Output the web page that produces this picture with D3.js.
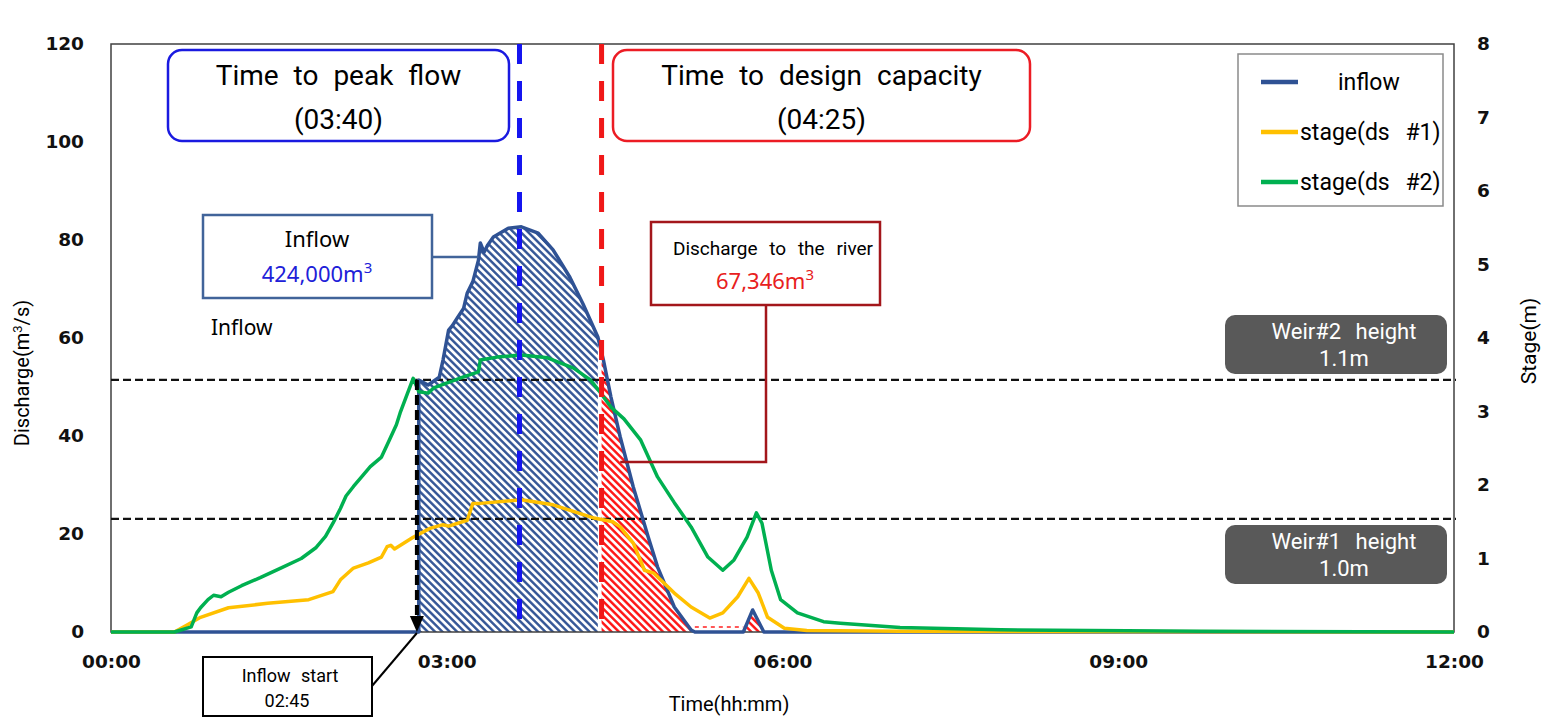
<!DOCTYPE html>
<html>
<head>
<meta charset="utf-8">
<script src="https://cdn.jsdelivr.net/npm/d3@7"></script>
<style>
body{margin:0;background:#fff;}
</style>
</head>
<body>
<script>
// times are minutes after 00:00
let inflowTime = [0,165,165,170,176,178,181,183,186,189,191,194,197,198,200,202,205,213,220,229,237,246,253,261,264,268,273,280,288,293,302,311,313,339,344,350,720]
let inflowQ    = [0,0,51.4,50.4,52,55.5,61.6,62.5,64.3,66,69.2,71.5,75.9,79.4,77.5,79,80.6,82.4,82.7,81.4,78,72.4,67,60.2,55.5,48,39.8,29.6,19.4,13.3,5.1,0.4,0,0,4.5,0,0]

let stage1Time = [0,34,41,48,63,84,106,119,123,130,138,145,148,150,152,162,171,178,181,191,194,198,220,237,259,269,273,280,286,291,302,311,321,328,336,342,347,352,361,373,423,720]
let stage1     = [0,0,0.1,0.2,0.33,0.39,0.44,0.55,0.71,0.87,0.94,1.02,1.16,1.18,1.13,1.29,1.41,1.46,1.44,1.52,1.75,1.75,1.8,1.73,1.55,1.5,1.43,1.21,0.84,0.8,0.53,0.34,0.19,0.26,0.48,0.73,0.53,0.2,0.05,0.02,0.01,0]

let stage2Time = [0,34,43,46,48,52,55,59,63,70,80,91,102,110,115,119,123,126,130,134,139,145,149,153,155,159,162,165,170,173,189,197,198,207,220,234,248,257,262,268,275,284,293,302,311,320,328,334,341,346,349,354,359,368,382,391,423,477,584,720]
let stage2     = [0,0,0.07,0.26,0.33,0.44,0.5,0.48,0.54,0.63,0.74,0.87,1.0,1.15,1.3,1.48,1.68,1.85,1.98,2.1,2.25,2.38,2.6,2.82,2.98,3.25,3.45,3.27,3.25,3.32,3.47,3.54,3.7,3.74,3.77,3.73,3.59,3.43,3.27,3.06,2.9,2.61,2.11,1.76,1.43,1.02,0.84,0.98,1.29,1.62,1.48,0.84,0.44,0.26,0.14,0.12,0.06,0.03,0.01,0]

let xTicks = [0,180,360,540,720]
let leftTicks = [0,20,40,60,80,100,120]
let rightTicks = [0,1,2,3,4,5,6,7,8]

let seriesNames = ["inflow","stage(ds #1)","stage(ds #2)"]
let seriesColors = ["#2f5294","#ffc000","#00b050"]

let startTime = 164     // 02:45 inflow start
let peakTime = 219      // 03:40
let designTime = 263    // 04:25
let weirStage = [1.54, 3.43]
let weirText = [["Weir#1 height","1.0m"],["Weir#2 height","1.1m"]]

let width = 1552
let height = 722
let mLeft = 111, mRight = 1454, mTop = 44, mBottom = 632

let svg = d3.select("body").append("svg")
            .attr("width", width)
            .attr("height", height)
            .attr("font-family", "Roboto, 'Noto Sans', sans-serif")

let defs = svg.append("defs")

let x = d3.scaleLinear().domain([0,720]).range([mLeft,mRight])
let yL = d3.scaleLinear().domain([0,120]).range([mBottom,mTop])
let yR = d3.scaleLinear().domain([0,8]).range([mBottom,mTop])

let toPts = (ts, vs) => ts.map((t,i) => [t, vs[i]])
let inflow = toPts(inflowTime, inflowQ)
let st1 = toPts(stage1Time, stage1)
let st2 = toPts(stage2Time, stage2)

// hatch patterns
let hatch = (id, color) => {
    let p = defs.append("pattern")
        .attr("id", id)
        .attr("patternUnits","userSpaceOnUse")
        .attr("width", 5.2).attr("height", 10)
        .attr("patternTransform","rotate(-45)")
    p.append("rect").attr("width",5.2).attr("height",10).attr("fill","#fff")
    p.append("line").attr("x1",1.3).attr("x2",1.3).attr("y1",0).attr("y2",10)
        .attr("stroke", color).attr("stroke-width", 2.4)
}
hatch("hBlue", "#2f5294")
hatch("hRed", "#ff1010")

defs.append("clipPath").attr("id","cBlue").append("rect")
    .attr("x", x(165)).attr("y", mTop)
    .attr("width", x(designTime - 2) - x(165)).attr("height", mBottom - mTop)
defs.append("clipPath").attr("id","cRed").append("rect")
    .attr("x", x(designTime)).attr("y", mTop)
    .attr("width", x(720) - x(designTime)).attr("height", mBottom - mTop)

let area = d3.area().x(d => x(d[0])).y0(yL(0)).y1(d => yL(d[1]))

svg.append("path").datum(inflow).attr("d", area)
    .attr("fill","url(#hBlue)").attr("clip-path","url(#cBlue)")
svg.append("path").datum(inflow).attr("d", area)
    .attr("fill","url(#hRed)").attr("clip-path","url(#cRed)")

// small red dotted segment along the bottom
svg.append("line")
    .attr("x1", x(313)).attr("x2", x(339))
    .attr("y1", yL(1)).attr("y2", yL(1))
    .attr("stroke","#ff2020").attr("stroke-width",1.5).attr("stroke-dasharray","4,4")

// frame
svg.append("rect")
    .attr("x", mLeft).attr("y", mTop)
    .attr("width", mRight-mLeft).attr("height", mBottom-mTop)
    .attr("fill","none").attr("stroke","#404040").attr("stroke-width",1.5)

// weir lines
svg.selectAll(".weir").data(weirStage).enter().append("line")
    .attr("class","weir")
    .attr("x1", mLeft).attr("x2", mRight + 2)
    .attr("y1", d => yR(d)).attr("y2", d => yR(d))
    .attr("stroke","#111").attr("stroke-width",2.2).attr("stroke-dasharray","8,4")

// series lines
let lineL = d3.line().x(d => x(d[0])).y(d => yL(d[1]))
let lineR = d3.line().x(d => x(d[0])).y(d => yR(d[1]))

svg.append("path").datum(inflow).attr("d", lineL)
    .attr("fill","none").attr("stroke", seriesColors[0]).attr("stroke-width",3.5).attr("stroke-linejoin","round")
svg.append("path").datum(st1).attr("d", lineR)
    .attr("fill","none").attr("stroke", seriesColors[1]).attr("stroke-width",3.5).attr("stroke-linejoin","round")
svg.append("path").datum(st2).attr("d", lineR)
    .attr("fill","none").attr("stroke", seriesColors[2]).attr("stroke-width",3.5).attr("stroke-linejoin","round")

// vertical event lines
svg.append("line")
    .attr("x1", x(peakTime)).attr("x2", x(peakTime))
    .attr("y1", mTop).attr("y2", mBottom)
    .attr("stroke","#1515f0").attr("stroke-width",5).attr("stroke-dasharray","20,17")
svg.append("line")
    .attr("x1", x(designTime)).attr("x2", x(designTime))
    .attr("y1", mTop).attr("y2", mBottom)
    .attr("stroke","#f01818").attr("stroke-width",5).attr("stroke-dasharray","20,17")

// axes
let fmt = m => d3.format("02d")(Math.floor(m/60)) + ":" + d3.format("02d")(m % 60)

let tickStyle = sel => sel.selectAll("text")
    .attr("font-family","DejaVu Sans").attr("font-weight","bold")
    .attr("font-size",18.5).attr("fill","#111")

svg.append("g")
    .attr("transform","translate(0,"+mBottom+")")
    .call(d3.axisBottom(x).tickValues(xTicks).tickFormat(fmt).tickSize(0).tickPadding(23))
    .call(g => g.select(".domain").remove())
    .call(tickStyle)

svg.append("g")
    .attr("transform","translate("+mLeft+",0)")
    .call(d3.axisLeft(yL).tickValues(leftTicks).tickSize(0).tickPadding(27))
    .call(g => g.select(".domain").remove())
    .call(tickStyle)

svg.append("g")
    .attr("transform","translate("+mRight+",0)")
    .call(d3.axisRight(yR).tickValues(rightTicks).tickSize(0).tickPadding(23))
    .call(g => g.select(".domain").remove())
    .call(tickStyle)

svg.append("text")
    .attr("transform","translate(29,373) rotate(-90)")
    .attr("text-anchor","middle").attr("font-size",20)
    .html("Discharge(m<tspan font-size='13' dy='-7'>3</tspan><tspan dy='7'>/s)</tspan>")
svg.append("text")
    .attr("transform","translate(1536,341) rotate(-90)")
    .attr("text-anchor","middle").attr("font-size",21)
    .text("Stage(m)")
svg.append("text")
    .attr("x", 729).attr("y", 711)
    .attr("text-anchor","middle").attr("font-size",20)
    .text("Time(hh:mm)")

// legend
let lg = svg.append("g")
lg.append("rect").attr("x",1238).attr("y",54).attr("width",205).attr("height",152)
    .attr("fill","#fff").attr("stroke","#8a8a8a").attr("stroke-width",1.5)
seriesNames.forEach((n,i) => {
    let yy = 82 + i*50
    lg.append("line").attr("x1",1261).attr("x2",1298).attr("y1",yy).attr("y2",yy)
        .attr("stroke", seriesColors[i]).attr("stroke-width",4.5)
    lg.append("text").attr("x", i == 0 ? 1338 : 1300).attr("y", yy + 8)
        .attr("font-size",23).style("word-spacing","10px").text(n)
})

// event boxes
let eventBox = (x0, w, color, l1, l2) => {
    svg.append("rect").attr("x",x0).attr("y",50).attr("width",w).attr("height",91)
        .attr("rx",14).attr("fill","#fff").attr("stroke",color).attr("stroke-width",2.5)
    svg.append("text").attr("x", x0 + w/2).attr("y",85).attr("text-anchor","middle")
        .attr("font-size",28).style("word-spacing","8px").text(l1)
    svg.append("text").attr("x", x0 + w/2).attr("y",129).attr("text-anchor","middle")
        .attr("font-size",28).text(l2)
}
eventBox(168, 341, "#1a1ae0", "Time to peak flow", "(" + fmt(220) + ")")
eventBox(613, 417, "#ec1c24", "Time to design capacity", "(" + fmt(265) + ")")

// inflow volume box
svg.append("line").attr("x1",432).attr("x2",x(197)).attr("y1",257).attr("y2",257)
    .attr("stroke","#41649a").attr("stroke-width",2.5)
svg.append("rect").attr("x",203).attr("y",215).attr("width",229).attr("height",83)
    .attr("fill","#fff").attr("stroke","#41649a").attr("stroke-width",2.5)
svg.append("text").attr("x",317).attr("y",247).attr("text-anchor","middle")
    .attr("font-family","Noto Sans").attr("font-size",22).text("Inflow")
svg.append("text").attr("x",317).attr("y",282).attr("text-anchor","middle")
    .attr("font-family","Noto Sans").attr("font-size",22).attr("fill","#2020d8")
    .html("424,000m<tspan font-size='15' dy='-9'>3</tspan>")
svg.append("text").attr("x",211).attr("y",335)
    .attr("font-family","Noto Sans").attr("font-size",21).text("Inflow")

// discharge box
svg.append("polyline")
    .attr("points", [[766,305],[766,462],[x(273),462]].map(p => p.join(",")).join(" "))
    .attr("fill","none").attr("stroke","#a3161b").attr("stroke-width",2.5)
svg.append("rect").attr("x",651).attr("y",222).attr("width",229).attr("height",83)
    .attr("fill","#fff").attr("stroke","#a3161b").attr("stroke-width",2.5)
svg.append("text").attr("x",773).attr("y",255).attr("text-anchor","middle")
    .attr("font-size",19).style("word-spacing","7px").text("Discharge to the river")
svg.append("text").attr("x",765).attr("y",289).attr("text-anchor","middle")
    .attr("font-family","Noto Sans").attr("font-size",22).attr("fill","#e82020")
    .html("67,346m<tspan font-size='15' dy='-9'>3</tspan>")

// weir labels
let weirBoxY = [525, 315]
weirText.forEach((t,i) => {
    svg.append("rect").attr("x",1225).attr("y",weirBoxY[i]).attr("width",222).attr("height",59)
        .attr("rx",10).attr("fill","#595959")
    svg.append("text").attr("x",1344).attr("y",weirBoxY[i]+24).attr("text-anchor","middle")
        .attr("font-size",22).attr("fill","#fff").style("word-spacing","9px").text(t[0])
    svg.append("text").attr("x",1344).attr("y",weirBoxY[i]+51).attr("text-anchor","middle")
        .attr("font-size",22).attr("fill","#fff").text(t[1])
})

// inflow start arrow
let ax = x(startTime)
svg.append("line").attr("x1",ax).attr("x2",ax).attr("y1",yR(weirStage[1])).attr("y2",mBottom-14)
    .attr("stroke","#000").attr("stroke-width",4).attr("stroke-dasharray","10,5")
svg.append("path")
    .attr("d","M"+(ax-7)+","+(mBottom-16)+"L"+(ax+7)+","+(mBottom-16)+"L"+ax+","+mBottom+"Z")
    .attr("fill","#000")
svg.append("line").attr("x1",ax).attr("y1",mBottom+1).attr("x2",372).attr("y2",686)
    .attr("stroke","#000").attr("stroke-width",2)
svg.append("rect").attr("x",203).attr("y",657).attr("width",169).attr("height",59)
    .attr("fill","#fff").attr("stroke","#000").attr("stroke-width",2)
svg.append("text").attr("x",290).attr("y",682).attr("text-anchor","middle")
    .attr("font-size",18).style("word-spacing","6px").text("Inflow start")
svg.append("text").attr("x",287).attr("y",707).attr("text-anchor","middle")
    .attr("font-size",18).text(fmt(165))
</script>
</body>
</html>
